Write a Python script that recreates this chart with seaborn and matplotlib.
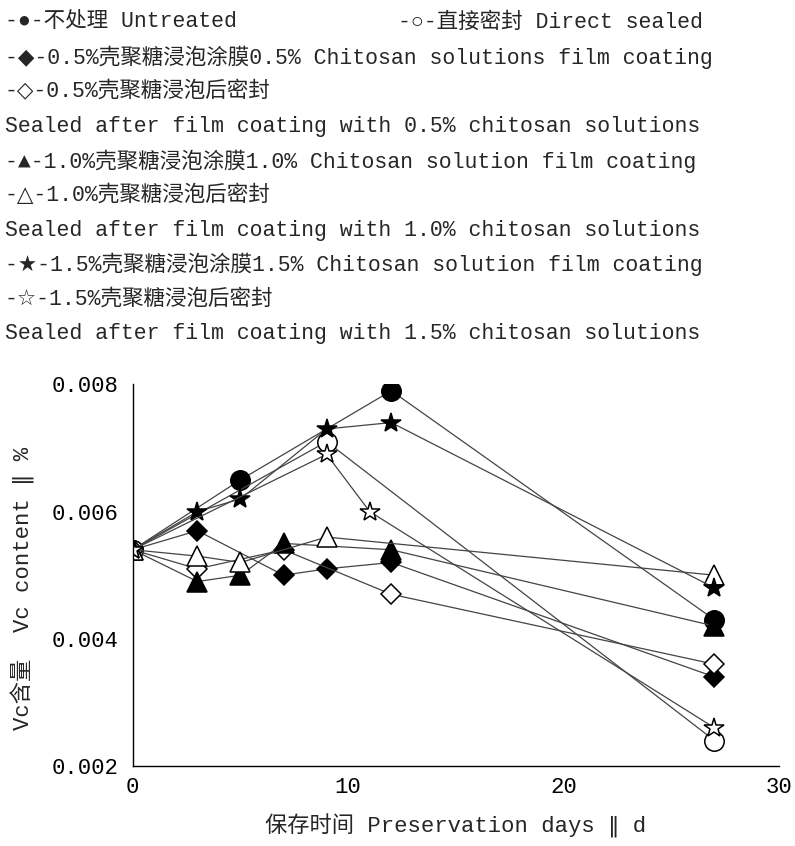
import matplotlib
matplotlib.use("Agg")
import matplotlib.pyplot as plt
import seaborn as sns

sns.set_theme(style="white")
plt.rcParams['font.family'] = ['Liberation Mono', 'DejaVu Sans', 'Noto Sans CJK SC']

# data (days, Vc content %)
untreated_days = [0, 5, 12, 27]
untreated_vals = [0.0054, 0.0065, 0.0079, 0.0043]
direct_days = [0, 9, 27]
direct_vals = [0.0054, 0.0071, 0.0024]
film05_days = [0, 3, 7, 9, 12, 27]
film05_vals = [0.0054, 0.0057, 0.0050, 0.0051, 0.0052, 0.0034]
seal05_days = [0, 3, 7, 12, 27]
seal05_vals = [0.0054, 0.0051, 0.0054, 0.0047, 0.0036]
film10_days = [0, 3, 5, 7, 12, 27]
film10_vals = [0.0054, 0.0049, 0.0050, 0.0055, 0.0054, 0.0042]
seal10_days = [0, 3, 5, 9, 27]
seal10_vals = [0.0054, 0.0053, 0.0052, 0.0056, 0.0050]
film15_days = [0, 3, 5, 9, 12, 27]
film15_vals = [0.0054, 0.0060, 0.0062, 0.0073, 0.0074, 0.0048]
seal15_days = [0, 9, 11, 27]
seal15_vals = [0.0054, 0.0069, 0.0060, 0.0026]

legend_lines = [
    "-◆-0.5%壳聚糖浸泡涂膜0.5% Chitosan solutions film coating",
    "-◇-0.5%壳聚糖浸泡后密封",
    "Sealed after film coating with 0.5% chitosan solutions",
    "-▲-1.0%壳聚糖浸泡涂膜1.0% Chitosan solution film coating",
    "-△-1.0%壳聚糖浸泡后密封",
    "Sealed after film coating with 1.0% chitosan solutions",
    "-★-1.5%壳聚糖浸泡涂膜1.5% Chitosan solution film coating",
    "-☆-1.5%壳聚糖浸泡后密封",
    "Sealed after film coating with 1.5% chitosan solutions",
]

fig = plt.figure(figsize=(7.95, 8.46), dpi=100)
ax = fig.add_axes([0.167, 0.0946, 0.813, 0.451])

series = [
    (untreated_days, untreated_vals, 'o', True, 14),
    (direct_days, direct_vals, 'o', False, 14),
    (film05_days, film05_vals, 'D', True, 10),
    (seal05_days, seal05_vals, 'D', False, 10),
    (film10_days, film10_vals, '^', True, 14),
    (seal10_days, seal10_vals, '^', False, 14),
    (film15_days, film15_vals, '*', True, 15),
    (seal15_days, seal15_vals, '*', False, 15),
]

for days, vals, mk, filled, ms in series:
    sns.lineplot(x=days, y=vals, ax=ax, color='#444444', linewidth=0.9,
                 marker=mk, markersize=ms,
                 markerfacecolor='black' if filled else 'white',
                 markeredgecolor='black', markeredgewidth=1.1)

ax.set_xlim(0, 30)
ax.set_ylim(0.002, 0.008)
ax.set_xticks([0, 10, 20, 30])
ax.set_yticks([0.002, 0.004, 0.006, 0.008])
ax.set_yticklabels(["0.002", "0.004", "0.006", "0.008"])
ax.tick_params(direction='in', length=6, width=1, labelsize=16, colors='black')
ax.tick_params(axis='y', pad=10)
ax.tick_params(axis='x', pad=8)
for s in ['top', 'right']:
    ax.spines[s].set_visible(False)
for s in ['left', 'bottom']:
    ax.spines[s].set_color('black')
    ax.spines[s].set_linewidth(1)

ax.set_xlabel("保存时间 Preservation days ‖ d", fontsize=16)
ax.set_ylabel("Vc含量  Vc content ‖ %", fontsize=16)
ax.xaxis.set_label_coords(0.5, -0.125)
ax.yaxis.set_label_coords(-0.152, 0.465)

# legend text block above the axes
fig.text(0.006, 0.974, "-●-不处理 Untreated", fontsize=15.5, va='center')
fig.text(0.50, 0.974, "-○-直接密封 Direct sealed", fontsize=15.5, va='center')
for i, line in enumerate(legend_lines):
    fig.text(0.006, 0.932 - i * 0.0408, line, fontsize=15.5, va='center')

plt.savefig("out.png", dpi=100)
